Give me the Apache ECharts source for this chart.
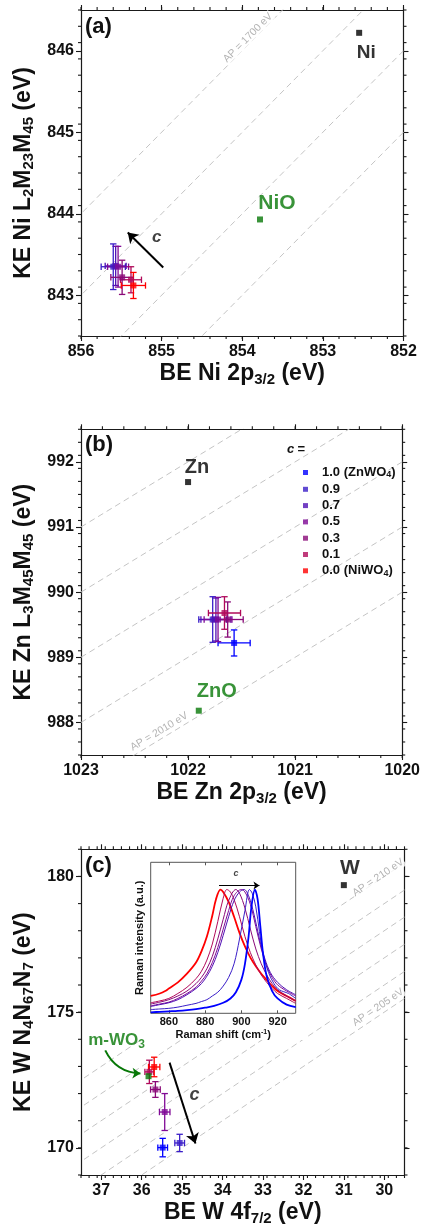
<!DOCTYPE html>
<html><head><meta charset="utf-8">
<script src="https://cdn.jsdelivr.net/npm/echarts@6/dist/echarts.min.js"></script>
<style>html,body{margin:0;padding:0;background:#fff}#chart{width:423px;height:1228px}</style>
</head><body><div id="chart"></div>
<script>
// ================= DATA =================
const legendNames = ['1.0 (ZnWO4)', '0.9', '0.7', '0.5', '0.3', '0.1', '0.0 (NiWO4)'];

// (a) Ni L2M23M45 vs Ni 2p3/2
const niBE    = [null, 855.60, 855.57, 855.54, 855.49, 855.38, 855.35];
const niKE    = [null, 843.35, 843.36, 843.35, 843.22, 843.19, 843.12];
const niBEerr = [null, 0.15, 0.13, 0.13, 0.14, 0.13, 0.15];
const niKEerr = [null, 0.28, 0.24, 0.25, 0.21, 0.16, 0.16];
const niMetal = [852.55, 846.22];
const niOxide = [853.78, 843.93];
const apA = [1697, 1698, 1699, 1700];
const aXTicks = [852, 853, 854, 855, 856];
const aYTicks = [843, 844, 845, 846];

// (b) Zn L3M45M45 vs Zn 2p3/2
const znBE    = [1021.57, 1021.77, 1021.74, 1021.72, 1021.63, 1021.66, null];
const znKE    = [989.22, 989.58, 989.58, 989.58, 989.58, 989.68, null];
const znBEerr = [0.15, 0.13, 0.14, 0.13, 0.145, 0.15, null];
const znKEerr = [0.20, 0.35, 0.33, 0.34, 0.27, 0.25, null];
const znMetal = [1022.00, 991.69];
const znOxide = [1021.90, 988.18];
const apB = [2010, 2011, 2012, 2013, 2014];
const bXTicks = [1020, 1021, 1022, 1023];
const bYTicks = [988, 989, 990, 991, 992];

// (c) W N4N67N7 vs W 4f7/2
const wBE    = [35.48, 35.06, null, 35.43, 35.66, 35.81, 35.69];
const wKE    = [170.01, 170.18, null, 171.32, 172.15, 172.80, 172.98];
const wBEerr = [0.12, 0.12, null, 0.13, 0.12, 0.11, 0.14];
const wKEerr = [0.34, 0.32, null, 0.68, 0.29, 0.43, 0.36];
const wMetal = [31.00, 179.68];
const wOxide = [35.83, 172.64];
const apC = [205, 206, 207, 208, 209, 210];
const cXTicks = [30, 31, 32, 33, 34, 35, 36, 37];
const cYTicks = [170, 175, 180];

// inset: Raman spectra [shift cm-1, normalised intensity]
const raman00 = [[850,0.14],[855,0.16],[858,0.18],[860,0.20],[865,0.25],[870,0.32],[875,0.41],[878,0.50],[881,0.62],[884,0.79],[886,0.92],[888.5,1.0],[890,0.98],[893,0.90],[896,0.78],[899,0.65],[902,0.54],[905,0.45],[908,0.38],[911,0.32],[914,0.27],[917,0.22],[920,0.18],[925,0.14],[930,0.10]];
const raman01 = [[850,0.085],[855,0.10],[860,0.12],[865,0.16],[870,0.21],[875,0.28],[878,0.34],[881,0.43],[884,0.56],[887,0.74],[890,0.93],[892,1.0],[894,0.98],[896,0.92],[899,0.78],[902,0.62],[905,0.49],[908,0.39],[911,0.31],[914,0.25],[917,0.20],[920,0.16],[925,0.12],[930,0.08]];
const raman03 = [[850,0.075],[855,0.09],[860,0.11],[865,0.14],[870,0.18],[875,0.24],[878,0.29],[881,0.36],[884,0.46],[887,0.60],[890,0.76],[893,0.91],[897,1.0],[899,0.97],[902,0.85],[905,0.68],[908,0.52],[911,0.40],[914,0.31],[917,0.24],[920,0.19],[925,0.14],[930,0.10]];
const raman05 = [[850,0.06],[855,0.075],[860,0.09],[865,0.12],[870,0.16],[875,0.21],[878,0.26],[881,0.32],[884,0.41],[887,0.53],[890,0.68],[893,0.83],[896,0.95],[900,1.0],[902,0.98],[905,0.88],[908,0.70],[911,0.52],[914,0.38],[917,0.29],[920,0.23],[925,0.18],[930,0.14]];
const raman07 = [[850,0.055],[855,0.07],[860,0.085],[865,0.11],[870,0.15],[875,0.20],[878,0.24],[881,0.30],[884,0.38],[887,0.49],[890,0.63],[893,0.78],[896,0.91],[899,0.98],[901.5,1.0],[904,0.95],[907,0.80],[910,0.60],[913,0.44],[916,0.33],[920,0.25],[925,0.19],[930,0.15]];
const raman09 = [[850,0.03],[855,0.035],[860,0.04],[865,0.05],[870,0.065],[875,0.08],[878,0.095],[881,0.11],[884,0.14],[887,0.17],[890,0.22],[893,0.29],[896,0.40],[899,0.60],[902,0.83],[904.5,1.0],[906,0.97],[908,0.86],[910,0.66],[912,0.48],[915,0.33],[918,0.24],[921,0.19],[926,0.16],[930,0.12]];
const raman10 = [[850,0.008],[855,0.012],[860,0.016],[865,0.02],[870,0.026],[875,0.034],[880,0.045],[885,0.06],[890,0.085],[894,0.12],[897,0.17],[900,0.27],[902,0.40],[904,0.62],[905.5,0.85],[907.5,1.0],[909,0.92],[910.5,0.70],[912,0.48],[914,0.30],[917,0.18],[920,0.12],[925,0.07],[930,0.05]];
const ramanTicks = [860, 880, 900, 920];

// ================= STYLE =================
const FONT = '"Liberation Sans", Arial, sans-serif';
const AX = '#1a1a1a', TXT = '#111', GREEN = '#087808', APC = '#c4c4c4';
const colors = ['#0000ff', '#3a1ec8', '#5010b4', '#800a96', '#8a0a78', '#b00a5a', '#ff0000'];

function steps(a, b, s) { const r = []; for (let v = a; v <= b + 1e-9; v += s) r.push(Math.round(v * 1000) / 1000); return r; }
const plain = v => String(v);

const nameRich = {
  n: { fontSize: 23, fontWeight: 'bold', fontFamily: FONT, color: TXT, lineHeight: 26 },
  s: { fontSize: 15, fontWeight: 'bold', fontFamily: FONT, color: TXT, lineHeight: 9, verticalAlign: 'bottom' }
};

const grids = [], xAxes = [], yAxes = [], series = [];

function addPanel(g, cfg) {
  const gi = grids.length; grids.push(g);
  const line = { show: true, onZero: false, lineStyle: { color: AX, width: 1.2 } };
  const tk = (vals, len) => ({ show: true, inside: false, length: len, customValues: vals, lineStyle: { color: AX, width: 1.1 } });
  const xb = { gridIndex: gi, type: 'value', min: cfg.x[0], max: cfg.x[1], inverse: true, splitLine: { show: false } };
  const yb = { gridIndex: gi, type: 'value', min: cfg.y[0], max: cfg.y[1], splitLine: { show: false } };
  const xi = xAxes.length, yi = yAxes.length;
  xAxes.push(Object.assign({}, xb, { position: 'bottom', name: cfg.xName, nameLocation: 'middle', nameGap: 25,
    nameTextStyle: { rich: nameRich }, axisLine: line, axisTick: tk(cfg.xTicks, 5),
    axisLabel: { customValues: cfg.xTicks, formatter: plain, fontSize: 16, fontWeight: 'bold', fontFamily: FONT, color: TXT, margin: 8 } }));
  xAxes.push(Object.assign({}, xb, { position: 'top', axisLine: line, axisTick: tk(cfg.xTicks, 5), axisLabel: { show: false } }));
  yAxes.push(Object.assign({}, yb, { position: 'left', name: cfg.yName, nameLocation: 'middle', nameGap: 41,
    nameTextStyle: { rich: nameRich }, axisLine: line, axisTick: tk(cfg.yTicks, 5),
    axisLabel: { customValues: cfg.yTicks, formatter: plain, fontSize: 16, fontWeight: 'bold', fontFamily: FONT, color: TXT, margin: 7 } }));
  yAxes.push(Object.assign({}, yb, { position: 'right', axisLine: line, axisTick: tk(cfg.yTicks, 5), axisLabel: { show: false } }));
  const ax = { xAxisIndex: xi, yAxisIndex: yi };

  // minor ticks on all four sides, placed through the axes' own scales
  const xm = (cfg.y[0] + cfg.y[1]) / 2, ym = (cfg.x[0] + cfg.x[1]) / 2;
  const mt = [];
  steps(cfg.x[0], cfg.x[1], cfg.xMinor).forEach(v => mt.push([v, xm, 0]));
  steps(cfg.y[0], cfg.y[1], cfg.yMinor).forEach(v => mt.push([ym, v, 1]));
  series.push(Object.assign({ type: 'custom', silent: true, clip: false, z: 30, encode: { x: 0, y: 1 }, data: mt,
    renderItem: (p, api) => {
      const pt = api.coord([api.value(0), api.value(1)]);
      const lo = api.coord([cfg.x[1], cfg.y[0]]), hi = api.coord([cfg.x[0], cfg.y[1]]);
      const L = 3;
      const st = { stroke: AX, lineWidth: 1.1 };
      if (api.value(2) === 0) return { type: 'group', children: [
        { type: 'line', shape: { x1: pt[0], y1: lo[1], x2: pt[0], y2: lo[1] + L }, style: st },
        { type: 'line', shape: { x1: pt[0], y1: hi[1], x2: pt[0], y2: hi[1] - L }, style: st }] };
      return { type: 'group', children: [
        { type: 'line', shape: { x1: lo[0], y1: pt[1], x2: lo[0] - L, y2: pt[1] }, style: st },
        { type: 'line', shape: { x1: hi[0], y1: pt[1], x2: hi[0] + L, y2: pt[1] }, style: st }] };
    } }, ax));

  // AP = const dashed lines
  cfg.ap.forEach(ap => series.push(Object.assign({ type: 'line', silent: true, symbol: 'none', z: 1,
    data: [[cfg.x[0], ap - cfg.x[0]], [cfg.x[1], ap - cfg.x[1]]],
    lineStyle: { color: APC, width: 1, type: [6, 4] } }, ax)));
  // AP labels
  cfg.apLabels.forEach(l => series.push(Object.assign({ type: 'scatter', silent: true, symbolSize: 0.1, z: 4,
    itemStyle: { color: 'rgba(0,0,0,0)' }, data: [[l.be, l.ke]],
    label: { show: true, position: 'inside', rotate: l.rot, formatter: l.text, fontSize: 10.5, fontFamily: FONT,
      color: '#a0a0a0', backgroundColor: '#fff', padding: [0, 1] } }, ax)));
  // error bars
  const eb = [];
  cfg.be.forEach((v, i) => { if (v != null) eb.push([v, cfg.ke[i], cfg.beErr[i], cfg.keErr[i], i]); });
  series.push(Object.assign({ type: 'custom', silent: true, z: 3, encode: { x: 0, y: 1 }, data: eb,
    renderItem: (p, api) => {
      const x = api.value(0), y = api.value(1), ex = api.value(2), ey = api.value(3);
      const col = colors[api.value(4)];
      const l = api.coord([x + ex, y]), r = api.coord([x - ex, y]), t = api.coord([x, y + ey]), b = api.coord([x, y - ey]);
      const cap = 3.2, st = { stroke: col, lineWidth: 1.3 };
      const L = (x1, y1, x2, y2) => ({ type: 'line', shape: { x1, y1, x2, y2 }, style: st });
      return { type: 'group', children: [
        L(l[0], l[1], r[0], r[1]), L(l[0], l[1] - cap, l[0], l[1] + cap), L(r[0], r[1] - cap, r[0], r[1] + cap),
        L(t[0], t[1], b[0], b[1]), L(t[0] - cap, t[1], t[0] + cap, t[1]), L(b[0] - cap, b[1], b[0] + cap, b[1])
      ] };
    } }, ax));
  // sample squares
  cfg.be.forEach((v, i) => { if (v != null) series.push(Object.assign({ type: 'scatter', name: legendNames[i], symbol: 'rect',
    symbolSize: 6, z: 5, itemStyle: { color: colors[i] }, data: [[v, cfg.ke[i]]] }, ax)); });
  // references
  cfg.refs.forEach(rf => series.push(Object.assign({ type: 'scatter', symbol: 'rect', symbolSize: 6, z: 20,
    itemStyle: { color: rf.color }, data: [rf.pt],
    label: { show: true, position: 'inside', offset: rf.off, formatter: rf.text, color: rf.color, fontSize: rf.size,
      fontWeight: rf.weight, fontFamily: FONT, rich: rf.rich } }, ax)));
  // arrows
  cfg.arrows.forEach(a => series.push(Object.assign({ type: 'lines', coordinateSystem: 'cartesian2d', silent: true, z: 6,
    symbol: ['none', 'arrow'], symbolSize: a.head, data: [{ coords: a.coords }],
    lineStyle: { color: a.color, width: a.width, curveness: a.curve || 0, opacity: 1 } }, ax)));
  cfg.texts.forEach(t => series.push(Object.assign({ type: 'scatter', silent: true, symbolSize: 0.1, z: 20,
    itemStyle: { color: 'rgba(0,0,0,0)' }, data: [t.pt],
    label: { show: true, position: 'inside', formatter: t.text, color: TXT, fontSize: t.size, fontWeight: 'bold',
      fontStyle: 'italic', fontFamily: FONT } }, ax)));
}

addPanel({ left: 81, top: 10, width: 322.5, height: 326 }, {
  x: [852, 856], y: [842.5, 846.5], xMinor: 0.2, yMinor: 0.2, xTicks: aXTicks, yTicks: aYTicks,
  xName: '{n|BE Ni 2p}{s|3/2}{n| (eV)}', yName: '{n|KE Ni L}{s|2}{n|M}{s|23}{n|M}{s|45}{n| (eV)}',
  ap: apA, apLabels: [{ be: 853.93, ke: 846.16, rot: 45, text: 'AP = 1700 eV' }],
  be: niBE, ke: niKE, beErr: niBEerr, keErr: niKEerr,
  refs: [{ pt: niMetal, color: '#000', text: 'Ni', off: [7, 20], size: 19, weight: 'bold' },
         { pt: niOxide, color: GREEN, text: 'NiO', off: [17, -16], size: 21, weight: 'bold' }],
  arrows: [{ coords: [[854.98, 843.34], [855.42, 843.77]], color: '#000', width: 2, head: 10 }],
  texts: [{ pt: [855.06, 843.71], text: 'c', size: 17 }]
});

addPanel({ left: 81, top: 429.3, width: 322.5, height: 325.7 }, {
  x: [1020, 1023], y: [987.5, 992.5], xMinor: 0.2, yMinor: 0.2, xTicks: bXTicks, yTicks: bYTicks,
  xName: '{n|BE Zn 2p}{s|3/2}{n| (eV)}', yName: '{n|KE Zn L}{s|3}{n|M}{s|45}{n|M}{s|45}{n| (eV)}',
  ap: apB, apLabels: [{ be: 1022.27, ke: 987.86, rot: 31, text: 'AP = 2010 eV' }],
  be: znBE, ke: znKE, beErr: znBEerr, keErr: znKEerr,
  refs: [{ pt: znMetal, color: '#000', text: 'Zn', off: [9, -15], size: 20, weight: 'bold' },
         { pt: znOxide, color: GREEN, text: 'ZnO', off: [18, -19], size: 20, weight: 'bold' }],
  arrows: [], texts: []
});

addPanel({ left: 81, top: 849.3, width: 323.5, height: 325.7 }, {
  x: [29.5, 37.5], y: [169, 181], xMinor: 0.2, yMinor: 1, xTicks: cXTicks, yTicks: cYTicks,
  xName: '{n|BE W 4f}{s|7/2}{n| (eV)}', yName: '{n|KE W N}{s|4}{n|N}{s|67}{n|N}{s|7}{n| (eV)}',
  ap: apC, apLabels: [{ be: 30.15, ke: 179.96, rot: 34, text: 'AP = 210 eV' }, { be: 30.15, ke: 175.18, rot: 34, text: 'AP = 205 eV' }],
  be: wBE, ke: wKE, beErr: wBEerr, keErr: wKEerr,
  refs: [{ pt: wMetal, color: '#000', text: 'W', off: [6, -17], size: 21, weight: 'bold' },
         { pt: wOxide, color: GREEN, text: '{g|m-WO}{gs|3}', off: [-32, -36], size: 17, weight: 'bold',
           rich: { g: { fontSize: 17, fontWeight: 'bold', color: GREEN, fontFamily: FONT, lineHeight: 20 },
                   gs: { fontSize: 12, fontWeight: 'bold', color: GREEN, fontFamily: FONT, lineHeight: 8, verticalAlign: 'bottom' } } }],
  arrows: [{ coords: [[35.31, 173.14], [34.67, 170.16]], color: '#000', width: 2, head: 10 },
           { coords: [[36.90, 173.59], [36.03, 172.74]], color: GREEN, width: 2, head: 8, curve: -0.3 }],
  texts: [{ pt: [34.69, 171.94], text: 'c', size: 18 }]
});

// ---------- inset ----------
const ig = grids.length;
grids.push({ left: 150.7, top: 862.3, width: 145, height: 151, show: true, borderColor: '#555', borderWidth: 1, backgroundColor: '#fff', z: 10 });
const ixi = xAxes.length, iyi = yAxes.length;
const ixb = { gridIndex: ig, type: 'value', min: 850, max: 930, z: 11, splitLine: { show: false }, axisLine: { show: false } };
xAxes.push(Object.assign({}, ixb, { position: 'bottom', name: '{n|Raman shift (cm}{p|-1}{n|)}', nameLocation: 'middle', nameGap: 13,
  nameTextStyle: { rich: { n: { fontSize: 11, fontWeight: 'bold', fontFamily: FONT, color: TXT, lineHeight: 13 },
                           p: { fontSize: 7, fontWeight: 'bold', fontFamily: FONT, color: TXT, lineHeight: 8, verticalAlign: 'top' } } },
  axisTick: { show: true, inside: true, length: 3, customValues: ramanTicks, lineStyle: { color: '#555' } },
  axisLabel: { customValues: ramanTicks, fontSize: 11, fontWeight: 'bold', fontFamily: FONT, color: TXT, margin: 3 } }));
xAxes.push(Object.assign({}, ixb, { position: 'top', axisTick: { show: true, inside: true, length: 3, customValues: ramanTicks, lineStyle: { color: '#555' } }, axisLabel: { show: false } }));
yAxes.push({ gridIndex: ig, type: 'value', min: 0, max: 1.22, z: 11, position: 'left', splitLine: { show: false }, axisLine: { show: false },
  axisTick: { show: false }, axisLabel: { show: false }, name: 'Raman intensity (a.u.)', nameLocation: 'middle', nameGap: 5,
  nameTextStyle: { fontSize: 11, fontWeight: 'bold', fontFamily: FONT, color: TXT } });
const ramanSets = [[raman00, 6, 1.8], [raman01, 5, 1.0], [raman03, 4, 1.0], [raman05, 3, 1.0], [raman07, 2, 1.0], [raman09, 1, 1.0], [raman10, 0, 1.8]];
ramanSets.forEach(([d, ci, w]) => series.push({ type: 'line', xAxisIndex: ixi, yAxisIndex: iyi, silent: true, symbol: 'none', smooth: 0.35,
  z: 12, data: d, lineStyle: { color: colors[ci], width: w } }));
series.push({ type: 'lines', coordinateSystem: 'cartesian2d', xAxisIndex: ixi, yAxisIndex: iyi, silent: true, z: 13,
  symbol: ['none', 'arrow'], symbolSize: 6, data: [{ coords: [[887.7, 1.032], [910, 1.032]] }], lineStyle: { color: '#000', width: 1.2, opacity: 1 } });
series.push({ type: 'scatter', xAxisIndex: ixi, yAxisIndex: iyi, silent: true, symbolSize: 0.1, z: 13, itemStyle: { color: 'rgba(0,0,0,0)' },
  data: [[897, 1.13]], label: { show: true, position: 'inside', formatter: 'c', fontSize: 9, fontWeight: 'bold', fontStyle: 'italic', fontFamily: FONT, color: TXT } });

const legendFmt = n => {
  if (n.indexOf('(') > 0) { const p = n.split(' ('); const m = p[1].replace(')', ''); return '{sp|}{t|' + p[0] + ' (' + m.slice(0, -1) + '}{s|' + m.slice(-1) + '}{t|)}'; }
  return '{sp|}{t|' + n + '}';
};

const chart = echarts.init(document.getElementById('chart'), null, { renderer: 'canvas' });
chart.setOption({
  backgroundColor: '#fff',
  animation: false,
  grid: grids, xAxis: xAxes, yAxis: yAxes, series: series,
  legend: { data: legendNames, orient: 'vertical', left: 298, top: 461, icon: 'rect', itemWidth: 5, itemHeight: 5, itemGap: 3.3,
    selectedMode: false, formatter: legendFmt,
    textStyle: { rich: { sp: { width: 9 }, t: { fontSize: 13, fontWeight: 'bold', fontFamily: FONT, color: TXT, lineHeight: 14 },
      s: { fontSize: 9, fontWeight: 'bold', fontFamily: FONT, color: TXT, lineHeight: 6, verticalAlign: 'bottom' } } } },
  graphic: [
    { type: 'rect', z: 8, silent: true, shape: { x: 136, y: 855, width: 172, height: 185 }, style: { fill: '#fff' } },
    { type: 'text', left: 85, top: 16, z: 30, style: { text: '(a)', font: 'bold 22px ' + FONT, fill: TXT } },
    { type: 'text', left: 85, top: 434, z: 30, style: { text: '(b)', font: 'bold 22px ' + FONT, fill: TXT } },
    { type: 'text', left: 85, top: 855, z: 30, style: { text: '(c)', font: 'bold 22px ' + FONT, fill: TXT } },
    { type: 'text', left: 287, top: 443, z: 30, style: { text: '{i|c} {t|=}', rich: { i: { font: 'italic bold 13px ' + FONT, fill: TXT }, t: { font: 'bold 13px ' + FONT, fill: TXT } } } }
  ]
});
</script></body></html>
